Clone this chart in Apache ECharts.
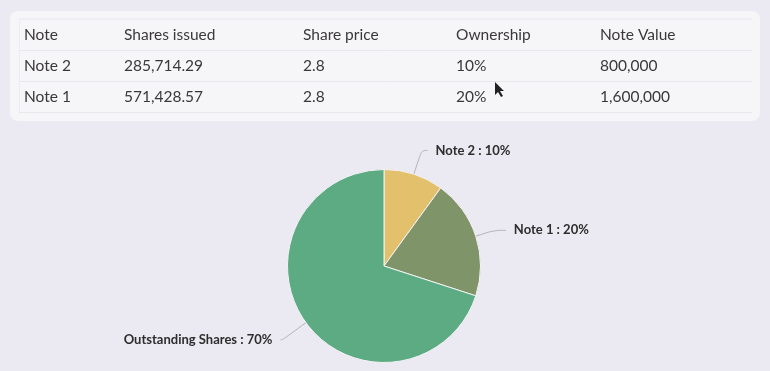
<!DOCTYPE html>
<html><head><meta charset="utf-8">
<style>html,body{margin:0;padding:0;background:#ebe9f2;width:770px;height:371px;overflow:hidden}#c{width:770px;height:371px}</style>
<script src="https://cdn.jsdelivr.net/npm/echarts@6/dist/echarts.min.js"></script>
</head><body><div id="c"></div>
<script>
const headers = ['Note','Shares issued','Share price','Ownership','Note Value'];
const row1 = ['Note 2','285,714.29','2.8','10%','800,000'];
const row2 = ['Note 1','571,428.57','2.8','20%','1,600,000'];
const names = ['Note 2','Note 1','Outstanding Shares'];
const values = [10,20,70];
const colors = ['#e3c06b','#7f9469','#5dab83'];

const FONT = 'Lato';
const colX = [24,124,303,456,600];
const rowY = [35,66,97];
const ruleY = [19,50.5,81.5,112.5];
const lineLengths = [[25,6],[19,12],[29,2]];
const g = [
  {type:'rect',shape:{x:10,y:11,width:750,height:110,r:8},style:{fill:'#f6f5f8'},silent:true}
];
ruleY.forEach(y=>g.push({type:'line',shape:{x1:19,y1:y,x2:752,y2:y},style:{stroke:'#e8e7ec',lineWidth:1},silent:true}));
g.push({type:'line',shape:{x1:19.5,y1:19,x2:19.5,y2:112},style:{stroke:'#eeedf1',lineWidth:1},silent:true});
[headers,row1,row2].forEach((r,i)=>r.forEach((t,j)=>g.push({
  type:'text',x:colX[j],y:rowY[i],silent:true,
  style:{text:t,fill:'#3a3838',font:'400 15.5px '+FONT,textAlign:'left',textVerticalAlign:'middle'}
})));
g.push({type:'polygon',silent:true,shape:{points:[[495,82],[495,95],[498,92],[501,97],[503,96],[500,91],[504,91]]},style:{fill:'#222'}});

const chart = echarts.init(document.getElementById('c'));
chart.setOption({
  animation:false,
  backgroundColor:'#ebe9f2',
  graphic:g,
  series:[{
    type:'pie',
    center:[384,266],radius:[0,96.5],startAngle:90,clockwise:true,
    color:colors,
    itemStyle:{borderColor:'#f4f3f4',borderWidth:1},
    label:{formatter:'{b} : {c}%',color:'#2e2d2d',fontFamily:FONT,fontWeight:700,fontSize:13,alignTo:'none',distanceToLabelLine:8},
    labelLine:{smooth:0.4,lineStyle:{color:'#b4b3b8',width:1}},
    emphasis:{disabled:true},
    data:names.map((n,i)=>({name:n,value:values[i],labelLine:{length:lineLengths[i][0],length2:lineLengths[i][1]}}))
  }]
});
</script></body></html>
